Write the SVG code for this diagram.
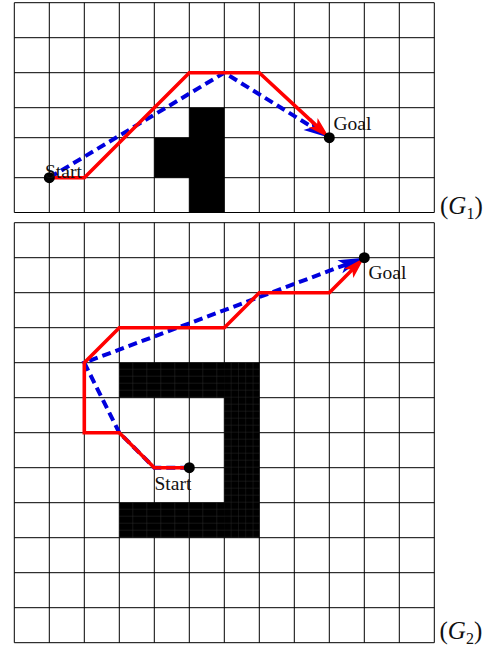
<svg xmlns="http://www.w3.org/2000/svg" width="493" height="652" viewBox="0 0 493 652">
<style>
.grid{fill:none;stroke:#000;stroke-width:1}
.obs{fill:#000}
.red{fill:none;stroke:#ff0000;stroke-width:3.6}
.blue{fill:none;stroke:#0000dd;stroke-width:4;stroke-dasharray:9 5}
.lbl{font-family:"Liberation Serif","Times New Roman",serif;font-size:19.5px;fill:#111}
.glbl{font-family:"Liberation Serif","Times New Roman",serif;font-size:25px;fill:#111}
.dot{fill:#000}
</style>
<defs>
<marker id="arR" markerUnits="userSpaceOnUse" markerWidth="22" markerHeight="13" refX="12" refY="0" orient="auto" overflow="visible"><path d="M0,-6.5 L22,0 L0,6.5 L5,0Z" fill="#ff0000"/></marker>
<marker id="arB" markerUnits="userSpaceOnUse" markerWidth="26" markerHeight="14" refX="16" refY="0" orient="auto" overflow="visible"><path d="M0,-7 L26,0 L0,7 L6,0Z" fill="#0000dd"/></marker>
<pattern id="hatchH" patternUnits="userSpaceOnUse" x="119.3" y="362.7" width="14" height="7"><rect width="14" height="7" fill="#000"/><path d="M0,6.6H14M13.6,0V7" stroke="#2e2e2e" stroke-width="0.5" fill="none"/></pattern>
<pattern id="hatchV" patternUnits="userSpaceOnUse" x="224.3" y="362.7" width="7.3" height="7"><rect width="7.3" height="7" fill="#000"/><path d="M0,6.6H7.3M6.9,0V7" stroke="#262626" stroke-width="0.5" fill="none"/></pattern>
</defs>
<rect width="493" height="652" fill="#fff"/>
<g id="grid-G1">
<path class="grid" d="M14.3,2.7V212.5M49.3,2.7V212.5M84.3,2.7V212.5M119.3,2.7V212.5M154.3,2.7V212.5M189.3,2.7V212.5M224.3,2.7V212.5M259.3,2.7V212.5M294.3,2.7V212.5M329.3,2.7V212.5M364.3,2.7V212.5M399.3,2.7V212.5M434.3,2.7V212.5M14.3,2.7H434.3M14.3,37.7H434.3M14.3,72.7H434.3M14.3,107.7H434.3M14.3,137.7H434.3M14.3,177.7H434.3M14.3,212.5H434.3"/>
<path class="obs" d="M189.3,107.7H224.3V212.5H189.3V177.7H154.3V137.7H189.3Z"/>
<text class="glbl" x="440" y="213.5">(<tspan font-style="italic">G</tspan><tspan font-size="16" dy="5">1</tspan><tspan dy="-5">)</tspan></text>
</g>
<g id="grid-G2">
<path class="grid" d="M14.3,222.7V642.7M49.3,222.7V642.7M84.3,222.7V642.7M119.3,222.7V642.7M154.3,222.7V642.7M189.3,222.7V642.7M224.3,222.7V642.7M259.3,222.7V642.7M294.3,222.7V642.7M329.3,222.7V642.7M364.3,222.7V642.7M399.3,222.7V642.7M434.3,222.7V642.7M14.3,222.7H434.3M14.3,257.7H434.3M14.3,292.7H434.3M14.3,327.7H434.3M14.3,362.7H434.3M14.3,397.7H434.3M14.3,432.7H434.3M14.3,467.7H434.3M14.3,502.7H434.3M14.3,537.7H434.3M14.3,572.7H434.3M14.3,607.7H434.3M14.3,642.7H434.3"/>
<rect x="119.3" y="362.7" width="106" height="35" fill="url(#hatchH)"/>
<rect x="119.3" y="502.7" width="106" height="35" fill="url(#hatchH)"/>
<rect x="224.3" y="362.7" width="35" height="175" fill="url(#hatchV)"/>
<text class="glbl" x="439.5" y="639">(<tspan font-style="italic">G</tspan><tspan font-size="16" dy="5">2</tspan><tspan dy="-5">)</tspan></text>
</g>
<g id="connectors">
<path class="blue" d="M49.3,177.7L224.3,72.7L320.8,132.4" marker-end="url(#arB)"/>
<path class="red" d="M49.3,177.7H84.3L189.3,72.7H259.3L322,130.9" marker-end="url(#arR)"/>
<path class="blue" d="M189.3,467.7H154.3L119.3,432.7L84.3,362.7L354.9,261.2" marker-end="url(#arB)"/>
<path class="red" d="M189.3,467.7H154.3L119.3,432.7H84.3V362.7L119.3,327.7H224.3L259.3,292.7H329.3L357.2,264.8" marker-end="url(#arR)"/>
</g>
<g id="start1"><circle class="dot" cx="49.3" cy="177.7" r="5.5"/><text class="lbl" x="45" y="178">Start</text></g>
<g id="goal1"><circle class="dot" cx="329.3" cy="137.7" r="5.5"/><text class="lbl" x="333.5" y="129.5">Goal</text></g>
<g id="start2"><circle class="dot" cx="189.3" cy="467.7" r="5.5"/><text class="lbl" x="154.5" y="490">Start</text></g>
<g id="goal2"><circle class="dot" cx="364.3" cy="257.7" r="5.5"/><text class="lbl" x="368.5" y="279">Goal</text></g>
</svg>
